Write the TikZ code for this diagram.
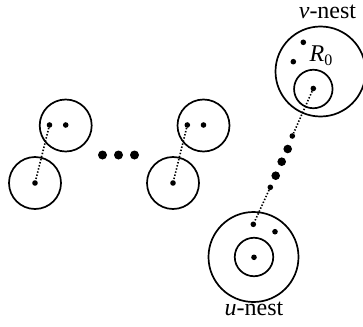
\documentclass[tikz,border=0pt]{standalone}
\usepackage{fontspec}
\setmainfont{Liberation Serif}
\begin{document}
\begin{tikzpicture}[x=1pt,y=-1pt,
  ring/.style={circle,draw,line width=1.7pt,inner sep=0pt,minimum size=#1},
  pt/.style={circle,fill,inner sep=0pt,minimum size=#1},
  link/.style={line width=1.6pt,dash pattern=on 1.4pt off 1.8pt},
  lbl/.style={inner sep=0pt,font=\fontsize{24}{28}\selectfont}]
\useasboundingbox (0,0) rectangle (363,326);
\clip (0,0) rectangle (363,326);
% left pair
\node[ring=52pt] (A1) at (65.7,125.5) {};
\node[pt=5.6pt] (a1) at (49.5,125) {};
\node[pt=5.6pt] (a2) at (65.7,125) {};
\node[ring=52pt] (B1) at (35,183) {};
\node[pt=5.6pt] (b1) at (35,183) {};
\draw[link] (a1) -- (b1);
% right pair
\node[ring=52pt] (A2) at (203.5,125.5) {};
\node[pt=5.6pt] (c1) at (187.3,125) {};
\node[pt=5.6pt] (c2) at (203.5,125) {};
\node[ring=52pt] (B2) at (173,183) {};
\node[pt=5.6pt] (d1) at (173,183) {};
\draw[link] (c1) -- (d1);
% ellipsis
\node[pt=9pt] (e1) at (102.5,155) {};
\node[pt=9pt] (e2) at (118.5,155) {};
\node[pt=9pt] (e3) at (134.5,155) {};
% v-nest
\node[ring=90pt] (V) at (320.5,71.5) {};
\node[ring=38.5pt] (R) at (313.3,89) {};
\node[pt=5.6pt] (v0) at (313.3,88.5) {};
\node[pt=5.6pt] (v1) at (303.3,42.3) {};
\node[pt=5.6pt] (v2) at (293.3,61.7) {};
\node[lbl,anchor=base west] (Rl) at (309.5,61.7) {\fontsize{24}{28}\selectfont\textit{R}\raisebox{-3.5pt}{\fontsize{16}{16}\selectfont 0}};
\node[lbl,anchor=base] (Vl) at (327.5,19) {\textit{ν}-nest};
% chain
\node[pt=5.6pt] (k1) at (292.3,136) {};
\node[pt=8.6pt] (k2) at (287.7,149) {};
\node[pt=8.6pt] (k3) at (281.7,161.7) {};
\node[pt=8.6pt] (k4) at (275.7,175.7) {};
\node[pt=5.6pt] (k5) at (270.3,187.3) {};
\draw[link] (v0) -- (k1);
% u-nest
\node[ring=90pt] (U) at (253.5,257) {};
\node[ring=38.5pt] (Ui) at (254,257) {};
\node[pt=5.6pt] (u0) at (254,257.3) {};
\node[pt=5.6pt] (u1) at (253.3,224.3) {};
\node[pt=5.6pt] (u2) at (275,231.7) {};
\draw[link] (k5) -- (u1);
\node[lbl,anchor=base] (Ul) at (254,315.7) {\textit{u}-nest};
\end{tikzpicture}
\end{document}
